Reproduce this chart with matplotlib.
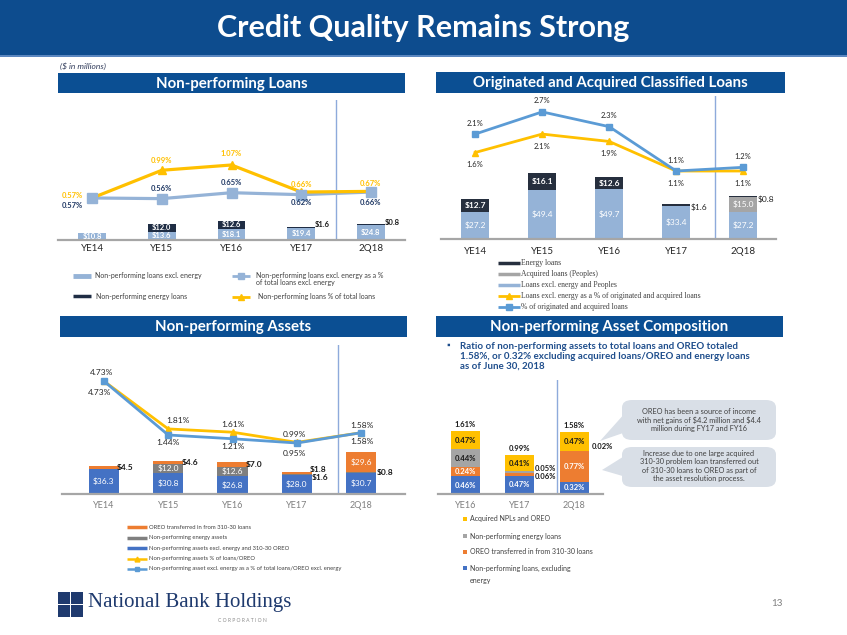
import numpy as np
import matplotlib.pyplot as plt
from matplotlib.patches import Rectangle, FancyBboxPatch, Polygon
from matplotlib.lines import Line2D

plt.rcParams['font.family'] = ['Lato', 'DejaVu Sans']

W, H = 847, 635
PT = 0.72  # points per pixel at dpi 100

TITLE_BLUE = '#0d4c8e'
HEAD_BLUE = '#0b4f93'
LIGHT_BLUE = '#95b3d7'
DARK_NAVY = '#1f2d44'
YELLOW = '#ffc000'
MID_BLUE = '#5b9bd5'
BAR_BLUE = '#4472c4'
ORANGE = '#ed7d31'
GRAY = '#7f7f7f'
LGRAY = '#a5a5a5'
TXT = '#404040'

# ---------------- data ----------------
periods = ['YE14', 'YE15', 'YE16', 'YE17', '2Q18']

# Non-performing loans ($M, %)
npl_excl_energy = [10.8, 13.6, 18.1, 19.4, 24.8]
npl_energy = [0, 12.0, 12.6, 1.6, 0.8]
npl_excl_pct = [0.57, 0.56, 0.65, 0.62, 0.66]
npl_total_pct = [0.57, 0.99, 1.07, 0.66, 0.67]

# Originated and acquired classified loans
cls_excl = [27.2, 49.4, 49.7, 33.4, 27.2]
cls_acquired = [0, 0, 0, 0, 15.0]
cls_energy = [12.7, 16.1, 12.6, 1.6, 0.8]
cls_excl_pct = [1.6, 2.1, 1.9, 1.1, 1.1]
cls_total_pct = [2.1, 2.7, 2.3, 1.1, 1.2]

# Non-performing assets
npa_excl = [36.3, 30.8, 26.8, 28.0, 30.7]
npa_energy = [0, 12.0, 12.6, 1.6, 0.8]
npa_oreo = [4.5, 4.6, 7.0, 1.8, 29.6]
npa_pct = [4.73, 1.81, 1.61, 0.99, 1.58]
npa_excl_pct = [4.73, 1.44, 1.21, 0.95, 1.58]

# Non-performing asset composition (% of loans/OREO)
comp_periods = ['YE16', 'YE17', '2Q18']
comp_npl = [0.46, 0.47, 0.32]
comp_oreo = [0.24, 0.06, 0.77]
comp_energy = [0.44, 0.05, 0.02]
comp_acquired = [0.47, 0.41, 0.47]
comp_total = [1.61, 0.99, 1.58]

fig = plt.figure(figsize=(W / 100, H / 100), dpi=100)


def fx(x):
    return x / W


def fy(y):
    return 1 - y / H


def box(x0, y0, x1, y1):
    return [x0 / W, 1 - y1 / H, (x1 - x0) / W, (y1 - y0) / H]


def rect(x0, y0, x1, y1, color):
    fig.add_artist(Rectangle((fx(x0), fy(y1)), (x1 - x0) / W, (y1 - y0) / H,
                             transform=fig.transFigure, color=color, lw=0))


def header(x0, y0, x1, y1, text):
    rect(x0, y0, x1, y1, HEAD_BLUE)
    fig.text(fx((x0 + x1) / 2), fy((y0 + y1) / 2 + 1), text, color='white',
             fontsize=10.8, fontweight='bold', ha='center', va='center')


def base_axes(r, xlim, ylim, cats, tcolor, tsize, pad):
    ax = fig.add_axes(box(*r))
    ax.set_xlim(xlim)
    ax.set_ylim(ylim)
    for s in ['top', 'right', 'left']:
        ax.spines[s].set_visible(False)
    ax.spines['bottom'].set_color('#a6a6a6')
    ax.spines['bottom'].set_linewidth(1.6)
    ax.set_yticks([])
    ax.set_xticks(range(len(cats)))
    ax.set_xticklabels(cats, fontsize=tsize, color=tcolor)
    ax.tick_params(axis='x', length=0, pad=pad)
    ax.patch.set_alpha(0)
    return ax


def line_axes(ax, ylim):
    ax2 = ax.twinx()
    ax2.set_ylim(ylim)
    for s in ax2.spines.values():
        s.set_visible(False)
    ax2.set_yticks([])
    return ax2


def lab(ax, x, y, s, dx=0, dy=0, ha='center', **kw):
    ax.annotate(s, (x, y), xytext=(dx * PT, dy * PT), textcoords='offset points',
                ha=ha, va='center', **kw)


def leg_line(x0, x1, y, color, lw, marker=None, ms=0):
    fig.add_artist(Line2D([fx(x0), fx(x1)], [fy(y), fy(y)], color=color, lw=lw,
                          transform=fig.transFigure, solid_capstyle='butt'))
    if marker:
        fig.add_artist(Line2D([fx((x0 + x1) / 2)], [fy(y)], marker=marker, color=color,
                              ms=ms, lw=0, transform=fig.transFigure))


# ---------------- slide frame ----------------
rect(0, 0, W, 55, TITLE_BLUE)
rect(0, 55, W, 57, '#5b87c0')
fig.text(0.5, fy(28), 'Credit Quality Remains Strong', color='white', fontsize=22,
         fontweight='bold', ha='center', va='center')
fig.text(fx(60), fy(66), r'(\$ in millions)', fontsize=6, style='italic', color='#2f3a5a',
         ha='left', va='center')

header(58, 73, 405, 93, 'Non-performing Loans')
header(436, 72, 785, 93, 'Originated and Acquired Classified Loans')
header(60, 316, 407, 337, 'Non-performing Assets')
header(436, 316, 783, 337, 'Non-performing Asset Composition')

x5 = np.arange(len(periods))
x3 = np.arange(len(comp_periods))

# ---------------- Non-performing Loans ----------------
ax1 = base_axes((58, 100, 405, 240), (-0.49, 4.49), (0, 226), periods, '#262626', 7, 3)
bw = 0.4
ax1.bar(x5, npl_excl_energy, bw, color=LIGHT_BLUE)
ax1.bar(x5, npl_energy, bw, bottom=npl_excl_energy, color=DARK_NAVY)
ax1.axvline(3.5, color='#8eaadb', lw=1)
for i in range(5):
    lab(ax1, i, npl_excl_energy[i] / 2, f'${npl_excl_energy[i]:.1f}', color='white',
        fontsize=5.5, fontweight='bold')
    if npl_energy[i] >= 5:
        lab(ax1, i, npl_excl_energy[i] + npl_energy[i] / 2, f'${npl_energy[i]:.1f}',
            color='white', fontsize=5.5, fontweight='bold')
    elif npl_energy[i] > 0:
        lab(ax1, i + bw / 2, npl_excl_energy[i] + npl_energy[i], f'${npl_energy[i]:.1f}',
            dx=0, dy=2, ha='left', color='#1a1a1a', fontsize=5.5, fontweight='bold')

ax1b = line_axes(ax1, (-0.067, 2.055))
ax1b.plot(x5, npl_excl_pct, color=LIGHT_BLUE, lw=2.3)
ax1b.plot(x5, npl_total_pct, color=YELLOW, lw=2.3, marker='^', ms=6)
ax1b.plot(x5, npl_excl_pct, color=LIGHT_BLUE, lw=0, marker='s', ms=6.5)
tot_off = [(-20, 2), (0, 10), (0, 11), (0, 8), (0, 8)]
exc_off = [(-20, -8), (0, 10), (0, 10), (0, -8), (0, -10)]
for i in range(5):
    lab(ax1b, i, npl_total_pct[i], f'{npl_total_pct[i]:.2f}%', *tot_off[i],
        color=YELLOW, fontsize=5.5, fontweight='bold')
    lab(ax1b, i, npl_excl_pct[i], f'{npl_excl_pct[i]:.2f}%', *exc_off[i],
        color='#1f3864', fontsize=5.5, fontweight='bold')

leg_line(73, 91, 276, LIGHT_BLUE, 3.5)
fig.text(fx(95), fy(276), 'Non-performing loans excl. energy', fontsize=5, color=TXT, va='center')
leg_line(73, 91, 296, DARK_NAVY, 2.5)
fig.text(fx(96), fy(296), 'Non-performing energy loans', fontsize=5, color=TXT, va='center')
leg_line(232, 250, 276, LIGHT_BLUE, 2, 's', 5)
fig.text(fx(256), fy(279), 'Non-performing loans excl. energy as a %\nof total loans excl. energy',
         fontsize=5, color=TXT, va='center', linespacing=1.1)
leg_line(232, 250, 297, YELLOW, 2, '^', 5)
fig.text(fx(258), fy(297), 'Non-performing loans % of total loans', fontsize=5, color=TXT,
         va='center')

# ---------------- Classified Loans ----------------
ax2 = base_axes((441, 96, 776, 239), (-0.51, 4.49), (0, 143), periods, '#262626', 7, 6)
bw = 0.42
bot2 = np.array(cls_excl) + np.array(cls_acquired)
ax2.bar(x5, cls_excl, bw, color=LIGHT_BLUE)
ax2.bar(x5, cls_acquired, bw, bottom=cls_excl, color=LGRAY)
ax2.bar(x5, cls_energy, bw, bottom=bot2, color='#262f3e')
ax2.axvline(3.58, color='#8eaadb', lw=1)
for i in range(5):
    lab(ax2, i, cls_excl[i] / 2, f'${cls_excl[i]:.1f}', color='white', fontsize=6)
    if cls_acquired[i] > 0:
        lab(ax2, i, cls_excl[i] + cls_acquired[i] / 2, f'${cls_acquired[i]:.1f}',
            color='white', fontsize=6)
    if cls_energy[i] >= 5:
        lab(ax2, i, bot2[i] + cls_energy[i] / 2, f'${cls_energy[i]:.1f}', color='white',
            fontsize=6, fontweight='bold')
    else:
        lab(ax2, i + bw / 2, bot2[i] + cls_energy[i], f'${cls_energy[i]:.1f}', dy=-3,
            ha='left', color='#262626', fontsize=6)

ax2b = line_axes(ax2, (-0.74, 3.13))
ax2b.plot(x5, cls_excl_pct, color=YELLOW, lw=2, marker='^', ms=5)
ax2b.plot(x5, cls_total_pct, color=MID_BLUE, lw=2, marker='s', ms=4.5)
for i in range(5):
    lab(ax2b, i, cls_total_pct[i], f'{cls_total_pct[i]:.1f}%', dy=11, color='#262626',
        fontsize=5.5)
    lab(ax2b, i, cls_excl_pct[i], f'{cls_excl_pct[i]:.1f}%', dy=-12, color='#262626',
        fontsize=5.5)

cls_leg = [('Energy loans', '#262f3e', None), ('Acquired loans (Peoples)', LGRAY, None),
           ('Loans excl. energy and Peoples', LIGHT_BLUE, None),
           ('Loans excl. energy as a % of originated and acquired loans', YELLOW, '^'),
           ('% of originated and acquired loans', MID_BLUE, 's')]
for k, (t, c, m) in enumerate(cls_leg):
    y = 263.3 + k * 11
    leg_line(498, 520, y, c, 2.5 if m is None else 2, m, 4)
    fig.text(fx(521), fy(y), t, fontsize=5.5, color=TXT, va='center', family='Liberation Serif')

# ---------------- Non-performing Assets ----------------
ax3 = base_axes((62, 345, 405, 494), (-0.65, 4.68), (0, 216), periods, '#7f7f7f', 6.5, 5)
bw = 0.47
b2 = np.array(npa_excl) + np.array(npa_energy)
ax3.bar(x5, npa_excl, bw, color=BAR_BLUE)
ax3.bar(x5, npa_energy, bw, bottom=npa_excl, color=GRAY)
ax3.bar(x5, npa_oreo, bw, bottom=b2, color=ORANGE)
ax3.axvline(3.64, color='#8eaadb', lw=1)
oreo_dy = [0, 0, 0, 3, 0]
for i in range(5):
    lab(ax3, i, npa_excl[i] / 2, f'${npa_excl[i]:.1f}', color='white', fontsize=6)
    if npa_energy[i] >= 5:
        lab(ax3, i, npa_excl[i] + npa_energy[i] / 2, f'${npa_energy[i]:.1f}', color='white',
            fontsize=6)
    elif npa_energy[i] > 0:
        lab(ax3, i + bw / 2, npa_excl[i] + npa_energy[i] / 2, f'${npa_energy[i]:.1f}',
            dy=-3 if i == 3 else 0, ha='left', color='#1a1a1a', fontsize=6, fontweight='bold')
    if npa_oreo[i] >= 10:
        lab(ax3, i, b2[i] + npa_oreo[i] / 2, f'${npa_oreo[i]:.1f}', color='white', fontsize=6)
    else:
        lab(ax3, i + bw / 2, b2[i] + npa_oreo[i] / 2, f'${npa_oreo[i]:.1f}', dx=-2,
            dy=oreo_dy[i], ha='left', color='#1a1a1a', fontsize=6, fontweight='bold')

ax3b = line_axes(ax3, (-2.16, 6.93))
ax3b.plot(x5, npa_pct, color=YELLOW, lw=2, marker='^', ms=5)
ax3b.plot(x5, npa_excl_pct, color=MID_BLUE, lw=2, marker='s', ms=5)
up_off = [(-2, 9), (10, 8), (0, 8), (-2, 8), (1, 7)]
dn_off = [(-4, -11), (0, -8), (0, -8), (-2, -10), (1, -9)]
for i in range(5):
    lab(ax3b, i, npa_pct[i], f'{npa_pct[i]:.2f}%', *up_off[i], color='#262626', fontsize=6)
    lab(ax3b, i, npa_excl_pct[i], f'{npa_excl_pct[i]:.2f}%', *dn_off[i], color='#262626',
        fontsize=6)

npa_leg = [('OREO transferred in from 310-30 loans', ORANGE, None),
           ('Non-performing energy assets', GRAY, None),
           ('Non-performing assets excl. energy and 310-30 OREO', BAR_BLUE, None),
           ('Non-performing assets % of loans/OREO', YELLOW, '^'),
           ('Non-performing asset excl. energy as a % of total loans/OREO excl. energy',
            MID_BLUE, 's')]
for k, (t, c, m) in enumerate(npa_leg):
    y = 527.3 + k * 10.4
    leg_line(127, 147, y, c, 2.5 if m is None else 1.8, m, 3.5)
    fig.text(fx(149), fy(y), t, fontsize=4.2, color=TXT, va='center')

# ---------------- Asset Composition ----------------
fig.text(fx(446), fy(345), '▪', fontsize=6.5, color='#1f4e8c', ha='left', va='center')
fig.text(fx(460), fy(356.5),
         'Ratio of non-performing assets to total loans and OREO totaled\n'
         '1.58%, or 0.32% excluding acquired loans/OREO and energy loans\n'
         'as of June 30, 2018',
         fontsize=7, fontweight='bold', color='#1f4e8c', ha='left', va='center',
         linespacing=1.15)

ax4 = base_axes((438, 380, 603, 494), (-0.5, 2.53), (0, 2.92), comp_periods, '#7f7f7f', 6.5, 5)
bw = 0.53
c1 = np.array(comp_npl)
c2 = c1 + np.array(comp_oreo)
c3 = c2 + np.array(comp_energy)
ax4.bar(x3, comp_npl, bw, color=BAR_BLUE)
ax4.bar(x3, comp_oreo, bw, bottom=c1, color=ORANGE)
ax4.bar(x3, comp_energy, bw, bottom=c2, color=LGRAY)
ax4.bar(x3, comp_acquired, bw, bottom=c3, color=YELLOW)
ax4.axvline(1.69, color='#8eaadb', lw=1)
segs = [(comp_npl, np.zeros(3), 'white'), (comp_oreo, c1, 'white'),
        (comp_energy, c2, '#1a1a1a'), (comp_acquired, c3, '#1a1a1a')]
small_dy = {(1, 1): -2, (2, 1): 4, (2, 2): 5}
for s, (vals, bots, col) in enumerate(segs):
    for i in range(3):
        v = vals[i]
        if v >= 0.2:
            lab(ax4, i, bots[i] + v / 2, f'{v:.2f}%', color=col, fontsize=5.5,
                fontweight='bold')
        else:
            lab(ax4, i + bw / 2, bots[i] + v / 2, f'{v:.2f}%', dx=1 if i == 1 else 3,
                dy=small_dy.get((s, i), 0), ha='left', color='#1a1a1a', fontsize=5.5,
                fontweight='bold')
for i in range(3):
    lab(ax4, i, comp_total[i], f'{comp_total[i]:.2f}%', dy=7, color='#1a1a1a', fontsize=5.5,
        fontweight='bold')

# callouts
CALL = '#d9dfe7'
for (y0, y1, tip, base) in [(400, 440, (600, 441), (412, 432)),
                            (447, 487, (602, 470), (455, 477))]:
    fig.add_artist(FancyBboxPatch((fx(622), fy(y1)), 154 / W, (y1 - y0) / H,
                                  boxstyle='round,pad=0,rounding_size=0.012',
                                  transform=fig.transFigure, color=CALL, lw=0))
    fig.add_artist(Polygon([(fx(tip[0]), fy(tip[1])), (fx(626), fy(base[0])),
                            (fx(626), fy(base[1]))], closed=True, transform=fig.transFigure,
                           color=CALL, lw=0))
fig.text(fx(699), fy(420.5), 'OREO has been a source of income\n'
         'with net gains of \\$4.2 million and \\$4.4\nmillion during FY17 and FY16',
         fontsize=5.3, color=TXT, ha='center', va='center', linespacing=1.2)
fig.text(fx(699), fy(466), 'Increase due to one large acquired\n'
         '310-30 problem loan transferred out\nof 310-30 loans to OREO as part of\n'
         'the asset resolution process.',
         fontsize=5.3, color=TXT, ha='center', va='center', linespacing=1.2)

comp_leg = [('Acquired NPLs and OREO', YELLOW, 519), ('Non-performing energy loans', LGRAY, 536),
            ('OREO transferred in from 310-30 loans', ORANGE, 552),
            ('Non-performing loans, excluding', BAR_BLUE, 568)]
for t, c, y in comp_leg:
    rect(463, y - 2, 467, y + 2, c)
    fig.text(fx(470), fy(y), t, fontsize=5, color=TXT, va='center')
fig.text(fx(470), fy(580), 'energy', fontsize=5, color=TXT, va='center')

# ---------------- footer ----------------
LOGO = '#1f3a6e'
for (a, b) in [(58, 592), (71, 592), (58, 605), (71, 605)]:
    rect(a, b, a + 11.5, b + 11.5, LOGO)
fig.text(fx(88), fy(603), 'National Bank Holdings', fontsize=15, color=LOGO,
         family='Liberation Serif', ha='left', va='center')
fig.text(fx(218), fy(620), 'C O R P O R A T I O N', fontsize=3.6, color='#8c8c8c',
         ha='left', va='center')
fig.text(fx(777), fy(604), '13', fontsize=7, color='#7f7f7f', ha='center', va='center')

fig.savefig('out.png', dpi=100)
